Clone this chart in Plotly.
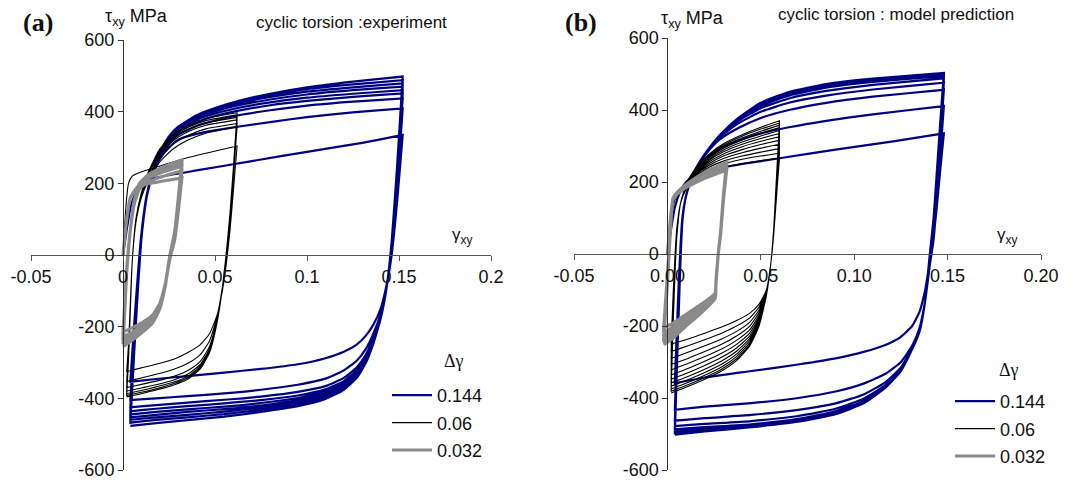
import plotly.graph_objects as go

# ---------------- tick labels ----------------
X_TICKS = [-0.05, 0.0, 0.05, 0.10, 0.15, 0.20]
X_TEXT_A = ["-0.05", "0", "0.05", "0.1", "0.15", "0.2"]
X_TEXT_B = ["-0.05", "0.00", "0.05", "0.10", "0.15", "0.20"]
Y_TICKS = [-600, -400, -200, 0, 200, 400, 600]
Y_TEXT = ["-600", "-400", "-200", "0", "200", "400", "600"]
SERIES = ["0.144", "0.06", "0.032"]

# ================= panel (a) : experiment =================
# blue, delta gamma = 0.144
A_BLUE_FIRST_X = [0.0, 0.002, 0.004, 0.007, 0.010, 0.014, 0.020, 0.040, 0.070, 0.100, 0.130, 0.152]
A_BLUE_FIRST_Y = [0, 70, 130, 175, 198, 210, 218, 236, 262, 288, 313, 335]
A_BLUE_UP_X = [0.004, 0.006, 0.008, 0.010, 0.013, 0.016, 0.020, 0.025, 0.030, 0.040, 0.050, 0.065, 0.080, 0.100, 0.125, 0.152]
A_BLUE_UP_Y = [
    [-354, -200, -60, 60, 170, 220, 268, 300, 322, 338, 348, 360, 371, 385, 398, 409],
    [-405, -240, -80, 50, 165, 222, 275, 310, 335, 360, 375, 392, 404, 417, 428, 437],
    [-425, -260, -90, 45, 165, 225, 280, 318, 343, 370, 388, 405, 418, 430, 441, 451],
    [-436, -265, -95, 45, 165, 226, 282, 322, 348, 377, 395, 413, 426, 439, 450, 460],
    [-445, -270, -100, 45, 168, 228, 284, 325, 352, 382, 401, 420, 434, 448, 460, 470],
    [-453, -270, -100, 45, 168, 228, 285, 328, 355, 386, 405, 426, 441, 456, 468, 479],
    [-460, -275, -100, 45, 170, 230, 285, 330, 357, 388, 408, 430, 446, 463, 476, 488],
    [-468, -280, -105, 45, 170, 230, 286, 331, 358, 390, 410, 433, 450, 468, 484, 498],
]
A_BLUE_DN_X = [0.152, 0.149, 0.146, 0.143, 0.140, 0.136, 0.132, 0.127, 0.120, 0.110, 0.095, 0.075, 0.055, 0.035, 0.018, 0.004]
A_BLUE_DN_Y = [
    [335, 150, 0, -90, -150, -195, -225, -250, -270, -288, -305, -318, -328, -338, -346, -354],
    [409, 190, 10, -95, -165, -220, -262, -295, -322, -345, -362, -376, -386, -394, -400, -405],
    [437, 210, 20, -98, -172, -232, -278, -314, -343, -366, -382, -395, -404, -412, -419, -425],
    [451, 220, 25, -100, -175, -237, -285, -322, -352, -375, -392, -405, -414, -422, -429, -436],
    [460, 228, 28, -100, -176, -240, -290, -328, -358, -382, -399, -413, -423, -431, -438, -445],
    [470, 235, 30, -100, -177, -243, -293, -332, -362, -387, -405, -420, -430, -438, -446, -453],
    [479, 240, 32, -100, -178, -245, -296, -336, -367, -392, -411, -426, -437, -446, -453, -460],
    [488, 245, 34, -100, -178, -247, -299, -340, -372, -397, -417, -432, -444, -453, -460, -468],
    [498, 250, 36, -100, -178, -248, -301, -343, -376, -402, -422, -438, -451, -461, -469, -477],
]

# black, delta gamma = 0.06
A_BLACK_FIRST_X = [0.0, 0.001, 0.002, 0.003, 0.005, 0.008, 0.015, 0.034, 0.062]
A_BLACK_FIRST_Y = [0, 90, 160, 200, 220, 228, 240, 270, 304]
A_BLACK_UP_X = [0.002, 0.003, 0.004, 0.005, 0.007, 0.010, 0.014, 0.020, 0.027, 0.035, 0.045, 0.062]
A_BLACK_UP_Y = [
    [-325, -250, -130, -20, 90, 160, 210, 260, 295, 320, 340, 358],
    [-353, -270, -140, -20, 95, 165, 218, 272, 308, 333, 352, 367],
    [-370, -280, -145, -20, 95, 168, 225, 282, 318, 343, 362, 377],
    [-380, -285, -150, -20, 98, 170, 228, 288, 325, 350, 369, 384],
    [-387, -290, -152, -20, 98, 172, 232, 292, 330, 356, 375, 391],
    [-392, -292, -155, -20, 100, 174, 235, 296, 334, 361, 381, 397],
]
A_BLACK_DN_X = [0.062, 0.060, 0.058, 0.056, 0.054, 0.051, 0.047, 0.042, 0.036, 0.028, 0.018, 0.010, 0.002]
A_BLACK_DN_Y = [
    [304, 180, 60, -30, -100, -170, -220, -250, -270, -290, -305, -315, -325],
    [358, 220, 90, -10, -90, -175, -240, -278, -300, -318, -333, -343, -353],
    [367, 225, 95, -5, -90, -180, -255, -297, -320, -338, -352, -361, -370],
    [377, 230, 100, 0, -90, -185, -262, -305, -330, -348, -362, -371, -380],
    [384, 235, 100, 0, -92, -188, -266, -310, -336, -354, -368, -378, -387],
    [391, 240, 105, 0, -92, -190, -270, -315, -340, -358, -373, -383, -392],
    [397, 245, 108, 0, -94, -192, -273, -318, -344, -362, -377, -387, -396],
]

# gray, delta gamma = 0.032
A_GRAY_FIRST_X = [0.0, 0.002, 0.004, 0.008, 0.015, 0.032]
A_GRAY_FIRST_Y = [0, 100, 160, 190, 200, 215]
A_GRAY_UP_X = [0.0, 0.001, 0.002, 0.004, 0.006, 0.009, 0.014, 0.022, 0.032]
A_GRAY_UP_Y = [
    [-215, -130, -40, 70, 140, 185, 205, 220, 235],
    [-228, -140, -45, 70, 145, 192, 215, 232, 248],
    [-238, -145, -50, 70, 148, 196, 220, 240, 257],
    [-248, -150, -50, 70, 150, 200, 225, 246, 265],
]
A_GRAY_DN_X = [0.032, 0.030, 0.028, 0.0255, 0.023, 0.020, 0.016, 0.010, 0.005, 0.0]
A_GRAY_DN_Y = [
    [215, 120, 40, -10, -80, -135, -168, -190, -203, -215],
    [235, 135, 50, -5, -80, -140, -175, -200, -215, -228],
    [248, 145, 55, 0, -82, -143, -180, -207, -224, -238],
    [257, 150, 60, 0, -85, -147, -185, -213, -232, -248],
    [265, 155, 62, 0, -86, -150, -190, -218, -238, -256],
]

# ================= panel (b) : model prediction =================
B_BLUE_FIRST_X = [0.0, 0.002, 0.004, 0.007, 0.010, 0.015, 0.025, 0.040, 0.060, 0.090, 0.120, 0.148]
B_BLUE_FIRST_Y = [0, 70, 130, 175, 200, 218, 235, 250, 266, 290, 312, 335]
B_BLUE_UP_X = [0.004, 0.005, 0.006, 0.007, 0.008, 0.0095, 0.012, 0.016, 0.021, 0.028, 0.038, 0.050, 0.065, 0.085, 0.110, 0.148]
B_BLUE_UP_Y = [
    [-359, -220, -90, 20, 100, 150, 195, 235, 265, 292, 315, 335, 352, 370, 388, 411],
    [-433, -280, -130, 0, 95, 150, 198, 242, 280, 318, 350, 378, 400, 420, 437, 456],
    [-463, -300, -150, -10, 92, 150, 200, 245, 283, 325, 363, 395, 420, 440, 457, 476],
    [-478, -310, -160, -15, 90, 150, 200, 245, 284, 328, 370, 405, 432, 453, 470, 488],
    [-487, -320, -165, -18, 90, 150, 200, 245, 285, 329, 374, 412, 440, 462, 478, 494],
    [-493, -325, -168, -20, 90, 150, 200, 245, 285, 330, 376, 416, 446, 468, 484, 499],
    [-498, -330, -170, -20, 90, 150, 200, 245, 285, 330, 378, 420, 450, 472, 487, 503],
]
B_BLUE_DN_X = [0.148, 0.146, 0.144, 0.1425, 0.1405, 0.138, 0.135, 0.131, 0.125, 0.117, 0.105, 0.090, 0.070, 0.045, 0.020, 0.004]
B_BLUE_DN_Y = [
    [335, 230, 120, 50, -20, -100, -160, -200, -230, -252, -272, -290, -307, -325, -343, -359],
    [411, 270, 130, 40, -30, -130, -205, -255, -300, -332, -360, -382, -400, -414, -424, -433],
    [456, 310, 165, 65, -10, -130, -210, -262, -315, -355, -390, -415, -433, -447, -456, -463],
    [476, 330, 185, 80, 0, -130, -212, -264, -320, -363, -402, -430, -450, -464, -472, -478],
    [488, 345, 195, 90, 0, -130, -213, -264, -322, -366, -408, -437, -458, -473, -481, -487],
    [494, 350, 200, 95, 0, -130, -214, -265, -323, -368, -411, -441, -462, -477, -487, -493],
    [499, 355, 205, 97, 0, -130, -215, -265, -324, -369, -413, -443, -464, -479, -490, -498],
    [503, 360, 210, 100, 0, -130, -215, -265, -325, -370, -415, -445, -466, -481, -493, -502],
]

B_BLACK_FIRST_X = [0.0, 0.002, 0.004, 0.007, 0.010, 0.015, 0.022, 0.030, 0.040, 0.050, 0.060]
B_BLACK_FIRST_Y = [0, 100, 150, 180, 195, 213, 230, 241, 251, 259, 266]
B_BLACK_UP_X = [0.002, 0.003, 0.004, 0.005, 0.007, 0.010, 0.015, 0.022, 0.030, 0.040, 0.050, 0.060]
B_BLACK_UP_Y = [
    [-250, -120, -10, 70, 140, 180, 212, 235, 250, 263, 272, 280],
    [-271, -135, -20, 65, 140, 182, 215, 240, 258, 272, 283, 293],
    [-290, -150, -30, 60, 140, 184, 218, 245, 265, 281, 294, 305],
    [-307, -160, -35, 58, 140, 186, 221, 250, 272, 290, 304, 316],
    [-322, -170, -40, 55, 140, 188, 224, 255, 278, 298, 313, 326],
    [-336, -180, -45, 52, 140, 190, 227, 259, 284, 305, 321, 335],
    [-348, -190, -50, 50, 140, 191, 230, 263, 289, 311, 328, 343],
    [-358, -195, -55, 48, 140, 192, 232, 267, 294, 317, 335, 351],
    [-367, -200, -60, 46, 140, 193, 234, 270, 298, 322, 341, 358],
    [-375, -205, -62, 45, 140, 194, 236, 273, 302, 327, 347, 364],
    [-381, -210, -65, 44, 140, 195, 238, 276, 306, 331, 352, 370],
]
B_BLACK_DN_X = [0.060, 0.059, 0.058, 0.057, 0.0555, 0.053, 0.049, 0.044, 0.037, 0.029, 0.020, 0.011, 0.002]
B_BLACK_DN_Y = [
    [266, 200, 130, 60, -20, -100, -140, -165, -185, -203, -220, -236, -250],
    [280, 210, 135, 62, -20, -100, -148, -178, -200, -220, -238, -255, -271],
    [293, 218, 140, 64, -20, -102, -156, -190, -215, -236, -255, -273, -290],
    [305, 226, 145, 66, -20, -104, -163, -201, -228, -251, -271, -290, -307],
    [316, 234, 150, 68, -20, -106, -170, -211, -240, -264, -285, -304, -322],
    [326, 241, 155, 70, -20, -108, -176, -220, -251, -276, -298, -318, -336],
    [335, 247, 159, 72, -20, -110, -182, -228, -261, -287, -310, -330, -348],
    [343, 253, 163, 74, -20, -112, -187, -235, -270, -297, -320, -340, -358],
    [351, 259, 167, 76, -20, -113, -191, -241, -278, -306, -329, -349, -367],
    [358, 264, 170, 78, -20, -114, -195, -247, -285, -314, -337, -357, -375],
    [364, 268, 173, 79, -20, -115, -198, -252, -291, -320, -343, -363, -381],
    [370, 272, 176, 80, -20, -116, -201, -256, -296, -325, -348, -368, -386],
]

B_GRAY_FIRST_X = [0.0, 0.0015, 0.003, 0.006, 0.012, 0.020, 0.0317]
B_GRAY_FIRST_Y = [0, 90, 150, 172, 190, 210, 233]
B_GRAY_UP_X = [-0.002, 0.0, 0.0015, 0.003, 0.005, 0.010, 0.017, 0.024, 0.0317]
B_GRAY_UP_Y = [
    [-205, -60, 60, 150, 165, 185, 207, 225, 240],
    [-218, -65, 60, 152, 167, 188, 211, 229, 245],
    [-228, -70, 58, 153, 168, 190, 214, 232, 249],
    [-237, -75, 56, 154, 169, 192, 216, 235, 252],
    [-245, -80, 55, 155, 170, 193, 218, 237, 255],
]
B_GRAY_DN_X = [0.0317, 0.030, 0.0285, 0.0272, 0.026, 0.0255, 0.018, 0.010, 0.003, -0.002]
B_GRAY_DN_Y = [
    [233, 150, 55, 0, -75, -110, -140, -168, -192, -205],
    [240, 155, 58, 0, -78, -114, -147, -177, -203, -218],
    [245, 158, 60, 0, -80, -117, -152, -184, -212, -228],
    [249, 160, 61, 0, -82, -120, -157, -190, -220, -237],
    [252, 162, 62, 0, -83, -122, -161, -195, -227, -245],
    [255, 164, 63, 0, -84, -124, -164, -200, -234, -252],
]


def build_path(fx, fy, ux, uys, dx, dys):
    """Chain the recorded branches: first loading, then alternate unloading / reloading."""
    xs, ys = list(fx), list(fy)
    for i, dy in enumerate(dys):
        xs += dx
        ys += dy
        if i < len(uys):
            xs += ux
            ys += uys[i]
    return xs, ys


W, H = 1071, 483
BLUE, BLACK, GRAY = "#000080", "#000000", "#8a8a8a"
FONT = "Liberation Sans, Arial, sans-serif"
SERIF = "Liberation Serif, Times New Roman, serif"

fig = go.Figure()

panels = [
    ("x", "y", "legend", [
        (A_BLUE_FIRST_X, A_BLUE_FIRST_Y, A_BLUE_UP_X, A_BLUE_UP_Y, A_BLUE_DN_X, A_BLUE_DN_Y),
        (A_BLACK_FIRST_X, A_BLACK_FIRST_Y, A_BLACK_UP_X, A_BLACK_UP_Y, A_BLACK_DN_X, A_BLACK_DN_Y),
        (A_GRAY_FIRST_X, A_GRAY_FIRST_Y, A_GRAY_UP_X, A_GRAY_UP_Y, A_GRAY_DN_X, A_GRAY_DN_Y),
    ]),
    ("x2", "y2", "legend2", [
        (B_BLUE_FIRST_X, B_BLUE_FIRST_Y, B_BLUE_UP_X, B_BLUE_UP_Y, B_BLUE_DN_X, B_BLUE_DN_Y),
        (B_BLACK_FIRST_X, B_BLACK_FIRST_Y, B_BLACK_UP_X, B_BLACK_UP_Y, B_BLACK_DN_X, B_BLACK_DN_Y),
        (B_GRAY_FIRST_X, B_GRAY_FIRST_Y, B_GRAY_UP_X, B_GRAY_UP_Y, B_GRAY_DN_X, B_GRAY_DN_Y),
    ]),
]
styles = [(BLUE, 2.2), (BLACK, 1.1), (GRAY, 3.2)]

for xa, ya, leg, fams in panels:
    for k, fam in enumerate(fams):
        xs, ys = build_path(*fam)
        col, wd = styles[k]
        fig.add_trace(go.Scatter(
            x=xs, y=ys, mode="lines", name=SERIES[k],
            line=dict(color=col, width=wd, shape="spline", smoothing=0.5),
            xaxis=xa, yaxis=ya, legend=leg, legendgroup=leg + str(k),
        ))


def py(p):
    return 1 - p / H


dom_a = [31 / W, 491 / W]
dom_b = [574 / W, 1041 / W]
ydom_a = [py(470), py(40)]
ydom_b = [py(470), py(38)]


def xaxis(dom, ydom, text):
    return dict(domain=dom, range=[-0.05, 0.2], anchor="free", position=(ydom[0] + ydom[1]) / 2,
                tickvals=X_TICKS, ticktext=text, ticks="outside", ticklen=5, tickcolor="#555",
                showline=True, linecolor="#555", linewidth=1, showgrid=False, zeroline=False,
                automargin=False, tickfont=dict(family=FONT, size=18, color="#111"))


def yaxis(dom, xdom):
    return dict(domain=dom, range=[-600, 600], anchor="free", position=xdom[0] + 0.2 * (xdom[1] - xdom[0]),
                tickvals=Y_TICKS, ticktext=Y_TEXT, ticks="outside", ticklen=5, tickcolor="#333",
                showline=True, linecolor="#333", linewidth=1, showgrid=False, zeroline=False,
                automargin=False, tickfont=dict(family=FONT, size=18, color="#111"))


def legend(xp, yp):
    return dict(x=xp / W, y=py(yp), xanchor="left", yanchor="top",
                font=dict(family=FONT, size=18, color="#111"), bgcolor="rgba(0,0,0,0)",
                itemwidth=40, tracegroupgap=1, traceorder="grouped")


anns = []


def ann(text, x, y, size, family=FONT, bold=False):
    t = "<b>%s</b>" % text if bold else text
    anns.append(dict(text=t, x=x / W, y=py(y), xref="paper", yref="paper", showarrow=False,
                     xanchor="center", yanchor="middle", font=dict(family=family, size=size, color="#111")))


ann("(a)", 38, 22, 26, SERIF, True)
ann("(b)", 581, 22, 26, SERIF, True)
ann("τ<sub>xy</sub> MPa", 136, 17, 18)
ann("τ<sub>xy</sub> MPa", 692, 19, 18)
ann("cyclic torsion :experiment", 351, 22, 17)
ann("cyclic torsion : model prediction", 896, 14, 17)
ann("γ<sub>xy</sub>", 462, 236, 17)
ann("γ<sub>xy</sub>", 1007, 236, 17)
ann("Δγ", 454, 361, 18, SERIF)
ann("Δγ", 1009, 370, 18, SERIF)

fig.update_layout(
    width=W, height=H, margin=dict(l=0, r=0, t=0, b=0, autoexpand=False),
    paper_bgcolor="white", plot_bgcolor="white",
    xaxis=xaxis(dom_a, ydom_a, X_TEXT_A), yaxis=yaxis(ydom_a, dom_a),
    xaxis2=xaxis(dom_b, ydom_b, X_TEXT_B), yaxis2=yaxis(ydom_b, dom_b),
    legend=legend(387, 377), legend2=legend(950, 383),
    annotations=anns, showlegend=True,
)

fig.write_html("out.html")
